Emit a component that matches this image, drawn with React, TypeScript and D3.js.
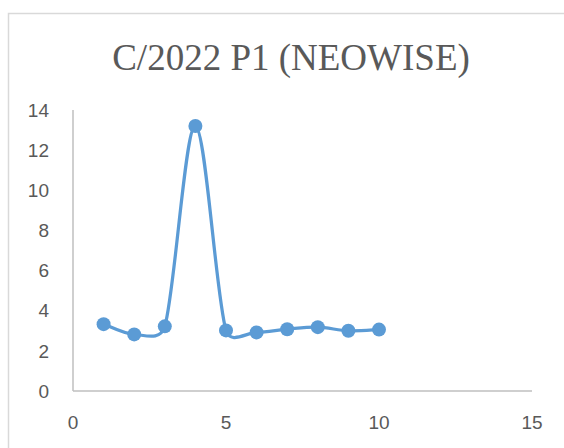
import React, { useEffect, useRef } from "react";
import * as d3 from "d3";

const xValues = [1, 2, 3, 4, 5, 6, 7, 8, 9, 10];
const yValues = [3.33, 2.82, 3.22, 13.2, 3.02, 2.92, 3.08, 3.18, 3.0, 3.06];
const xTicks = [0, 5, 10, 15];
const yTicks = [0, 2, 4, 6, 8, 10, 12, 14];
const title = "C/2022 P1 (NEOWISE)";

const width = 564;
const height = 448;

// Excel-like smoothing: Catmull-Rom tangents, each handle clamped
// to a share of the segment it sits on
function excelSmooth(context: any) {
  let pts: [number, number][] = [];
  return {
    areaStart() {},
    areaEnd() {},
    lineStart() {
      pts = [];
    },
    point(x: number, y: number) {
      pts.push([+x, +y]);
    },
    lineEnd() {
      const n = pts.length;
      if (!n) return;
      context.moveTo(pts[0][0], pts[0][1]);
      const k = 0.5;
      const tan = pts.map((p, i) => {
        const a = pts[Math.max(0, i - 1)];
        const b = pts[Math.min(n - 1, i + 1)];
        return [(b[0] - a[0]) / 6, (b[1] - a[1]) / 6];
      });
      const clamp = (v: number[], len: number) => {
        const l = Math.hypot(v[0], v[1]);
        const m = Math.min(1, (k * len) / (l || 1));
        return [v[0] * m, v[1] * m];
      };
      for (let i = 0; i < n - 1; i++) {
        const p = pts[i];
        const q = pts[i + 1];
        const seg = Math.hypot(q[0] - p[0], q[1] - p[1]);
        const t0 = clamp(tan[i], seg);
        const t1 = clamp(tan[i + 1], seg);
        context.bezierCurveTo(
          p[0] + t0[0],
          p[1] + t0[1],
          q[0] - t1[0],
          q[1] - t1[1],
          q[0],
          q[1]
        );
      }
    },
  };
}

export default function App() {
  const ref = useRef<SVGSVGElement>(null);

  useEffect(() => {
    const svg = d3.select(ref.current);
    svg.selectAll("*").remove();

    const x = d3.scaleLinear().domain([0, 15]).range([73, 532]);
    const y = d3.scaleLinear().domain([0, 14]).range([391, 110]);

    // chart frame (runs off the right and bottom edges)
    svg
      .append("rect")
      .attr("x", 8.5)
      .attr("y", 13.5)
      .attr("width", width)
      .attr("height", height)
      .attr("fill", "#fff")
      .attr("stroke", "#d9d9d9")
      .attr("stroke-width", 1.5);

    svg
      .append("text")
      .attr("x", 291)
      .attr("y", 70)
      .attr("text-anchor", "middle")
      .attr("font-family", "'Liberation Serif', 'Times New Roman', serif")
      .attr("font-size", "37px")
      .attr("fill", "#595959")
      .text(title);

    // axes lines
    svg
      .append("line")
      .attr("x1", x(0))
      .attr("x2", x(0))
      .attr("y1", y(14))
      .attr("y2", y(0))
      .attr("stroke", "#bfbfbf")
      .attr("stroke-width", 1.5);
    svg
      .append("line")
      .attr("x1", x(0))
      .attr("x2", x(15))
      .attr("y1", y(0))
      .attr("y2", y(0))
      .attr("stroke", "#bfbfbf")
      .attr("stroke-width", 1.5);

    const font = "'Liberation Sans', Arial, sans-serif";

    svg
      .selectAll(".ytick")
      .data(yTicks)
      .join("text")
      .attr("class", "ytick")
      .attr("x", 49)
      .attr("y", (d) => y(d))
      .attr("dy", "0.35em")
      .attr("text-anchor", "end")
      .attr("font-family", font)
      .attr("font-size", "19px")
      .attr("fill", "#595959")
      .text((d) => d);

    svg
      .selectAll(".xtick")
      .data(xTicks)
      .join("text")
      .attr("class", "xtick")
      .attr("x", (d) => x(d))
      .attr("y", 422)
      .attr("dy", "0.35em")
      .attr("text-anchor", "middle")
      .attr("font-family", font)
      .attr("font-size", "19px")
      .attr("fill", "#595959")
      .text((d) => d);

    const pts = xValues.map((v, i) => [v, yValues[i]] as [number, number]);

    const line = d3
      .line<[number, number]>()
      .x((d) => x(d[0]))
      .y((d) => y(d[1]))
      .curve(excelSmooth as any);

    svg
      .append("path")
      .attr("d", line(pts))
      .attr("fill", "none")
      .attr("stroke", "#5b9bd5")
      .attr("stroke-width", 3.25)
      .attr("stroke-linecap", "round");

    svg
      .selectAll(".pt")
      .data(pts)
      .join("circle")
      .attr("class", "pt")
      .attr("cx", (d) => x(d[0]))
      .attr("cy", (d) => y(d[1]))
      .attr("r", 7)
      .attr("fill", "#5b9bd5");
  }, []);

  return (
    <svg
      ref={ref}
      width={width}
      height={height}
      style={{ position: "absolute", left: 0, top: 0 }}
    />
  );
}
